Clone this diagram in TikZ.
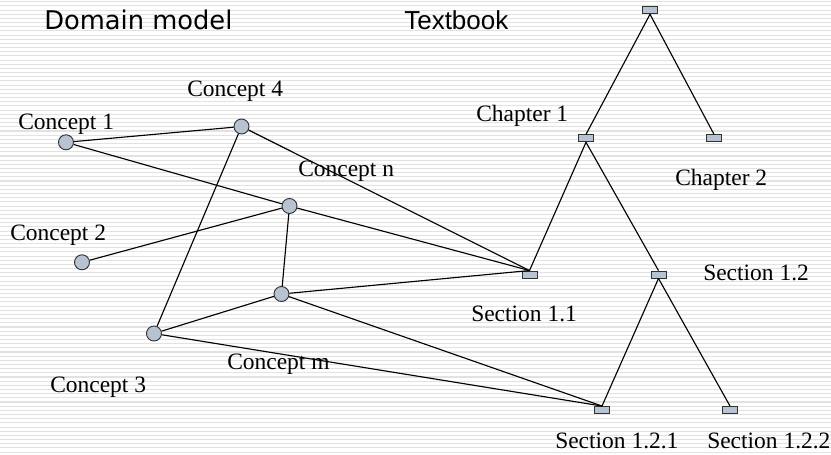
\documentclass[tikz,border=0pt]{standalone}
\usepackage{fontspec}
\setmainfont{Liberation Serif}
\newfontfamily\dejavu{DejaVu Sans}
\newfontfamily\arialf{Liberation Sans}
\definecolor{nodefill}{RGB}{183,195,208}
\definecolor{nodeline}{RGB}{50,50,50}
\definecolor{stripe}{RGB}{226,226,226}
\begin{document}
\begin{tikzpicture}[x=0.75pt,y=-0.75pt,
  concept/.style={circle,draw=nodeline,fill=nodefill,line width=0.7pt,minimum size=11.25pt,inner sep=0pt},
  part/.style={rectangle,draw=nodeline,fill=nodefill,line width=0.7pt,minimum width=11.25pt,minimum height=5.25pt,inner sep=0pt},
  lab/.style={anchor=base west,inner sep=0pt,font=\fontsize{17.6}{20}\selectfont},
  head/.style={anchor=base west,inner sep=0pt},
  link/.style={line width=0.85pt,black}]
\useasboundingbox (0,0) rectangle (831,454);
\fill[white] (0,0) rectangle (831,454);
\foreach \i in {0,...,108} {
  \draw[stripe,line width=0.8pt] (0,{1.7+4.17*\i}) -- (831,{1.7+4.17*\i});
}
% headings
\node[head,font=\dejavu\fontsize{19.3}{22}\selectfont] (hdm) at (44,29.3) {Domain model};
\node[head,font=\arialf\fontsize{19.5}{22}\selectfont] (htb) at (404,29.3) {Textbook};
% labels
\node[lab] (l1) at (18,129.3) {Concept 1};
\node[lab] (l4) at (187,96.7) {Concept 4};
\node[lab] (ln) at (298,176.7) {Concept n};
\node[lab] (l2) at (10,240.7) {Concept 2};
\node[lab] (lm) at (227,369) {Concept m};
\node[lab] (l3) at (50,392.7) {Concept 3};
\node[lab] (lch1) at (476,121) {Chapter 1};
\node[lab] (lch2) at (675,185) {Chapter 2};
\node[lab] (ls11) at (471,321) {Section 1.1};
\node[lab] (ls12) at (703,280) {Section 1.2};
\node[lab] (ls121) at (555,448.3) {Section 1.2.1};
\node[lab] (ls122) at (707,448.3) {Section 1.2.2};
% concept nodes
\node[concept] (c1) at (66,142.3) {};
\node[concept] (c4) at (241.5,126.5) {};
\node[concept] (cn) at (289.5,206) {};
\node[concept] (c2) at (82,262.3) {};
\node[concept] (cm) at (281.5,294) {};
\node[concept] (c3) at (154,333.5) {};
% textbook nodes
\node[part] (root) at (650,10.3) {};
\node[part] (ch1) at (586,138.3) {};
\node[part] (ch2) at (714,138.3) {};
\node[part] (s11) at (529.5,274.5) {};
\node[part] (s12) at (658.5,274.5) {};
\node[part] (s121) at (602,410) {};
\node[part] (s122) at (730,410) {};
% edges
\draw[link] (c1) -- (c4);
\draw[link] (c1) -- (cn);
\draw[link] (c2) -- (cn);
\draw[link] (c4) -- (c3);
\draw[link] (cn) -- (cm);
\draw[link] (c3) -- (cm);
\draw[link] (c4) -- (s11.north);
\draw[link] (cn) -- (s11.north);
\draw[link] (cm) -- (s11.north);
\draw[link] (c3) -- (s121.north);
\draw[link] (cm) -- (s121.north);
\draw[link] (root.south) -- (ch1.north);
\draw[link] (root.south) -- (ch2.north);
\draw[link] (ch1.south) -- (s11.north);
\draw[link] (ch1.south) -- (s12.north);
\draw[link] (s12.south) -- (s121.north);
\draw[link] (s12.south) -- (s122.north);
\end{tikzpicture}
\end{document}
